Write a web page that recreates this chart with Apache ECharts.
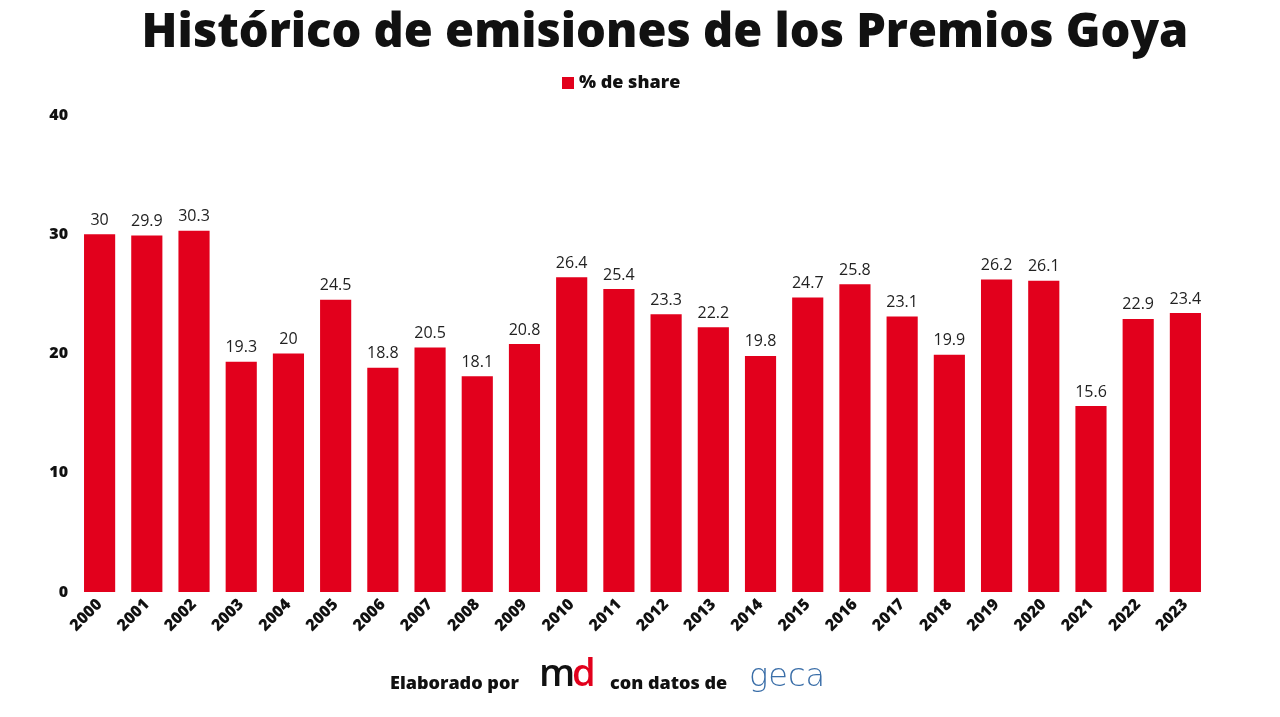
<!DOCTYPE html>
<html><head><meta charset="utf-8">
<script src="https://cdn.jsdelivr.net/npm/echarts@6/dist/echarts.min.js"></script>
<style>html,body{margin:0;padding:0;background:#fff}#c{width:1280px;height:717px}</style>
</head><body><div id="c"></div>
<script>
const years = ['2000','2001','2002','2003','2004','2005','2006','2007','2008','2009','2010','2011','2012','2013','2014','2015','2016','2017','2018','2019','2020','2021','2022','2023'];
const share = [30,29.9,30.3,19.3,20,24.5,18.8,20.5,18.1,20.8,26.4,25.4,23.3,22.2,19.8,24.7,25.8,23.1,19.9,26.2,26.1,15.6,22.9,23.4];
const yTicks = [0,10,20,30,40];
const chart = echarts.init(document.getElementById('c'));
chart.setOption({
  backgroundColor:'#fff',
  title:{text:'Histórico de emisiones de los Premios Goya',left:660,textAlign:'center',top:5,
    textStyle:{fontFamily:'"Open Sans", sans-serif',fontWeight:800,fontSize:47,color:'#111'}},
  legend:{top:69,left:557,itemWidth:12,itemHeight:12,icon:'rect',itemGap:10,
    textStyle:{fontFamily:'"Open Sans", sans-serif',fontWeight:800,fontSize:18,color:'#111'}},
  grid:{left:76,right:71,top:115,bottom:125},
  xAxis:{type:'category',data:years,axisLine:{show:false},axisTick:{show:false},
    axisLabel:{rotate:45,interval:0,margin:10,fontFamily:'"Open Sans", sans-serif',fontWeight:800,fontSize:16,color:'#111'}},
  yAxis:{type:'value',min:0,max:40,interval:10,splitLine:{show:false},axisLine:{show:false},axisTick:{show:false},
    axisLabel:{margin:8,fontFamily:'"Open Sans", sans-serif',fontWeight:800,fontSize:16,color:'#111',
      formatter:v=>yTicks.includes(v)?String(v):''}},
  series:[{name:'% de share',type:'bar',data:share,barWidth:'66%',
    itemStyle:{color:'#e2001c'},
    label:{show:true,position:'top',distance:6,fontFamily:'"Open Sans", sans-serif',fontSize:16,color:'#222'}}],
  graphic:[
    {type:'text',left:390,top:675,style:{text:'Elaborado por',fontFamily:'"Open Sans", sans-serif',fontWeight:800,fontSize:18,fill:'#111'}},
    {type:'text',left:539,top:656,style:{text:'m',fontFamily:'"Open Sans", sans-serif',fontWeight:600,fontSize:38,fill:'#111'}},
    {type:'text',left:572,top:656,style:{text:'d',fontFamily:'"Open Sans", sans-serif',fontWeight:600,fontSize:38,fill:'#e2001c'}},
    {type:'text',left:610,top:675,style:{text:'con datos de',fontFamily:'"Open Sans", sans-serif',fontWeight:800,fontSize:18,fill:'#111'}},
    {type:'text',left:749,top:662,style:{text:'geca',fontFamily:'"DejaVu Sans", sans-serif',fontWeight:300,fontSize:32,fill:'#3a6ea8'}}
  ]
});
</script></body></html>
